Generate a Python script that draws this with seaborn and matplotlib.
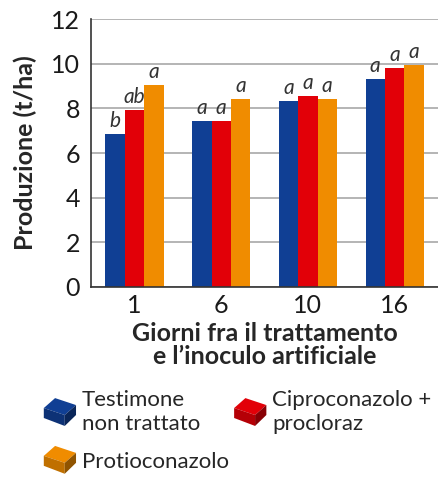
import matplotlib
matplotlib.use("Agg")
import matplotlib.pyplot as plt
from matplotlib.legend_handler import HandlerBase
from matplotlib.patches import Polygon, Patch
import seaborn as sns
import pandas as pd
import numpy as np

# Data
giorni = ["1", "6", "10", "16"]
testimone = [6.85, 7.43, 8.33, 9.31]
ciproconazolo = [7.92, 7.43, 8.55, 9.81]
protioconazolo = [9.04, 8.42, 8.42, 9.94]
lettere_testimone = ["b", "a", "a", "a"]
lettere_cipro = ["ab", "a", "a", "a"]
lettere_protio = ["a", "a", "a", "a"]

trattamenti = ["Testimone\nnon trattato", "Ciproconazolo +\nprocloraz", "Protioconazolo"]
colori = ["#103f94", "#e20008", "#f08c00"]

df = pd.DataFrame({
    "giorni": giorni * 3,
    "trattamento": [trattamenti[0]] * 4 + [trattamenti[1]] * 4 + [trattamenti[2]] * 4,
    "produzione": testimone + ciproconazolo + protioconazolo,
})

sns.set_style("white")
plt.rcParams["font.family"] = ["Lato", "DejaVu Sans"]


class BoxHandler(HandlerBase):
    # draws a small 3D box like the legend icons of the original
    def create_artists(self, legend, orig_handle, xdescent, ydescent,
                       width, height, fontsize, trans):
        c = np.array(matplotlib.colors.to_rgb(orig_handle.get_facecolor()))
        dark = c * 0.6
        mid = c * 0.8
        w, h = width, height
        top = Polygon([[0, 0.6 * h], [0.35 * w, 1.1 * h], [w, 0.75 * h], [0.65 * w, 0.25 * h]],
                      closed=True, facecolor=c, edgecolor="none", transform=trans)
        front = Polygon([[0, 0.6 * h], [0.65 * w, 0.25 * h], [0.65 * w, -0.3 * h], [0, 0.1 * h]],
                        closed=True, facecolor=mid, edgecolor="none", transform=trans)
        side = Polygon([[0.65 * w, 0.25 * h], [w, 0.75 * h], [w, 0.25 * h], [0.65 * w, -0.3 * h]],
                       closed=True, facecolor=dark, edgecolor="none", transform=trans)
        return [top, front, side]


fig = plt.figure(figsize=(4.38, 4.79), dpi=100)
ax = fig.add_axes([0.208, 0.401, 0.792, 0.559])

sns.barplot(data=df, x="giorni", y="produzione", hue="trattamento",
            hue_order=trattamenti, palette=colori, width=0.67, gap=0,
            saturation=1, linewidth=0, ax=ax, legend=False)

for cont, lab in zip(ax.containers, [lettere_testimone, lettere_cipro, lettere_protio]):
    ax.bar_label(cont, labels=lab, padding=2, fontsize=15, fontstyle="italic",
                 color="#333333")

ax.set_ylim(0, 12)
ax.set_xlim(-0.5, 3.5)
ax.set_yticks(range(0, 13, 2))
ax.yaxis.grid(True, color="#a8a8a8", linewidth=1.2)
ax.set_axisbelow(True)
for s in ["top", "right"]:
    ax.spines[s].set_visible(False)
for s in ["left", "bottom"]:
    ax.spines[s].set_color("#333333")
    ax.spines[s].set_linewidth(1.2)

ax.set_xticks([-0.5, 0.5, 1.5, 2.5, 3.5], minor=True)
ax.tick_params(axis="x", which="major", length=0, labelsize=18, pad=5, colors="#1a1a1a")
ax.tick_params(axis="x", which="minor", length=14, width=1.2, color="#555555")
ax.tick_params(axis="y", which="major", length=5, width=1.2, color="#333333",
               labelsize=18, pad=3, labelcolor="#1a1a1a")

ax.set_ylabel("Produzione (t/ha)", fontsize=18, fontweight="bold", labelpad=10)
ax.set_xlabel("Giorni fra il trattamento\ne l\u2019inoculo artificiale", fontsize=18,
              fontweight="bold", labelpad=4, linespacing=1.0)

handles = [Patch(facecolor=colori[0]), Patch(facecolor=colori[2]), Patch(facecolor=colori[1])]
labels = [trattamenti[0], trattamenti[2], trattamenti[1]]
fig.legend(handles, labels, loc="upper left", bbox_to_anchor=(0.1, 0.185), ncol=2,
           frameon=False, fontsize=16, handler_map={Patch: BoxHandler()},
           handlelength=1.45, handleheight=1.0, handletextpad=0.25, borderpad=0,
           borderaxespad=0, columnspacing=0.25, labelspacing=0.75)

fig.savefig("out.png", dpi=100)
